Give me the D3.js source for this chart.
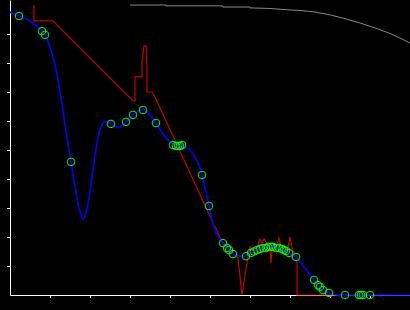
<!DOCTYPE html>
<html>
<head>
<meta charset="utf-8">
<script src="https://cdn.jsdelivr.net/npm/d3@7"></script>
<style>
  body { margin: 0; background: #000; }
</style>
</head>
<body>
<script>
const width = 410;
const height = 310;

// tick positions on both axes (no labels)
const xTicks = [1, 2, 3, 4, 5, 6, 7, 8, 9];
const yTicks = [1, 2, 3, 4, 5, 6, 7, 8, 9];

// smooth fitted curve (blue)
const fitX = [0, 0.225, 0.5, 0.7, 0.8, 0.875, 1.0, 1.125, 1.25, 1.375, 1.525, 1.65, 1.75, 1.825, 1.9, 1.975,
  2.075, 2.175, 2.25, 2.325, 2.4, 2.525, 2.65, 2.75, 2.9, 3.075, 3.2, 3.325, 3.5, 3.65, 3.825, 4.0, 4.15,
  4.35, 4.5, 4.625, 4.75, 4.8, 4.9, 4.975, 5.05, 5.175, 5.325, 5.475, 5.6, 5.75, 5.875, 6.025, 6.175, 6.375,
  6.575, 6.75, 6.9, 7.025, 7.15, 7.375, 7.6, 7.8, 7.975, 8.175, 8.5, 10];
const fitY = [9.76, 9.62, 9.45, 9.24, 9.10, 8.97, 8.55, 7.93, 7.0, 5.86, 4.59, 3.52, 2.86, 2.62, 2.83, 3.34,
  4.31, 5.24, 5.69, 5.93, 6.0, 5.90, 5.79, 5.79, 5.97, 6.21, 6.34, 6.38, 6.21, 5.93, 5.55, 5.28, 5.14,
  5.10, 5.0, 4.76, 4.38, 4.14, 3.55, 3.07, 2.59, 2.10, 1.79, 1.55, 1.41, 1.34, 1.34, 1.45, 1.55, 1.62,
  1.66, 1.62, 1.52, 1.41, 1.31, 0.93, 0.52, 0.17, 0.07, 0, 0, 0];

// sample points (green rings)
const sampleX = [0.225, 0.8, 0.875, 1.525, 2.525, 2.9, 3.075, 3.325, 3.65, 4.075, 4.15, 4.2, 4.25, 4.3,
  4.8, 4.975, 5.325, 5.425, 5.475, 5.575, 5.9, 6.025, 6.1, 6.175, 6.25, 6.325, 6.4, 6.45, 6.525, 6.575,
  6.65, 6.725, 6.8, 6.85, 6.9, 6.975, 7.15, 7.6, 7.7, 7.75, 7.825, 7.975, 8.375, 8.725, 8.775, 8.825, 9.0];
const sampleY = [9.62, 9.10, 8.97, 4.59, 5.90, 5.97, 6.21, 6.38, 5.93, 5.17, 5.14, 5.14, 5.14, 5.17,
  4.14, 3.07, 1.79, 1.62, 1.55, 1.41, 1.34, 1.45, 1.50, 1.55, 1.59, 1.62, 1.62, 1.66, 1.66, 1.66,
  1.62, 1.62, 1.59, 1.55, 1.52, 1.45, 1.31, 0.52, 0.34, 0.28, 0.17, 0.07, 0, 0, 0, 0, 0];

// raw measured trace (red)
const rawX = [0.6, 0.6, 1.075, 3.075, 3.125, 3.125, 3.3, 3.3, 3.35, 3.4, 3.425, 3.425, 3.55, 3.625,
  5.1, 5.3, 5.4, 5.55, 5.7, 5.8, 5.95, 6.0, 6.075, 6.15, 6.2, 6.25, 6.3, 6.35, 6.4, 6.45, 6.5, 6.525,
  6.55, 6.65, 6.725, 6.775, 6.875, 6.95, 7.0, 7.05, 7.125, 7.175, 7.175, 9.05];
const rawY = [10.0, 9.45, 9.45, 6.69, 6.69, 7.52, 7.52, 8.03, 8.59, 8.59, 7.76, 7.0, 7.0, 6.83,
  2.41, 1.86, 1.66, 1.48, 1.28, 0, 1.34, 1.66, 1.55, 1.62, 1.69, 1.93, 1.79, 1.93, 1.83, 1.72, 1.62, 1.10,
  1.59, 1.66, 1.97, 1.62, 1.55, 1.62, 2.0, 1.62, 1.38, 1.31, 0, 0];

// reference envelope (gray)
const refX = [3.0, 3.9, 3.9, 5.325, 5.325, 6.0, 6.0, 6.5, 6.875, 7.25, 7.625, 8.0, 8.375, 8.75, 9.125, 9.5, 9.75, 10];
const refY = [10.0, 10.0, 9.97, 9.97, 9.93, 9.93, 9.90, 9.88, 9.84, 9.81, 9.76, 9.66, 9.53, 9.38, 9.21, 9.02, 8.86, 8.69];

const x = d3.scaleLinear().domain([0, 10]).range([10, 410]);
const y = d3.scaleLinear().domain([0, 295 / 29]).range([295, 0]);

const svg = d3.select("body")
  .append("svg")
  .attr("width", width)
  .attr("height", height);

svg.append("rect")
  .attr("width", width)
  .attr("height", height)
  .attr("fill", "#000");

const zip = (xs, ys) => xs.map((v, i) => [v, ys[i]]);

const straight = d3.line().x(d => x(d[0])).y(d => y(d[1]));
const smooth = d3.line().x(d => x(d[0])).y(d => y(d[1])).curve(d3.curveCatmullRom);

// axes
svg.append("g")
  .attr("transform", "translate(0,295)")
  .call(d3.axisBottom(x).tickValues(xTicks).tickSize(3).tickSizeOuter(0).tickFormat(""));
svg.append("g")
  .attr("transform", "translate(10,0)")
  .call(d3.axisLeft(y).tickValues(yTicks).tickSize(3).tickSizeOuter(0).tickFormat(""));
svg.selectAll(".domain, .tick line").attr("stroke", "#fff").attr("stroke-width", 1);

svg.append("path")
  .datum(zip(refX, refY))
  .attr("d", straight)
  .attr("fill", "none")
  .attr("stroke", "#888")
  .attr("stroke-width", 1);

svg.append("path")
  .datum(zip(rawX, rawY))
  .attr("d", straight)
  .attr("fill", "none")
  .attr("stroke", "#c80000")
  .attr("stroke-width", 1.2)
  .attr("stroke-linejoin", "miter");

svg.append("path")
  .datum(zip(fitX, fitY))
  .attr("d", smooth)
  .attr("fill", "none")
  .attr("stroke", "#0000ff")
  .attr("stroke-width", 1.6);

const samples = zip(sampleX, sampleY);

svg.selectAll("circle.ring")
  .data(samples)
  .join("circle")
  .attr("class", "ring")
  .attr("cx", d => x(d[0]))
  .attr("cy", d => y(d[1]))
  .attr("r", 3.8)
  .attr("fill", "none")
  .attr("stroke", "#00ff00")
  .attr("stroke-width", 1);

svg.selectAll("circle.dot")
  .data(samples)
  .join("circle")
  .attr("class", "dot")
  .attr("cx", d => x(d[0]))
  .attr("cy", d => y(d[1]))
  .attr("r", 0.7)
  .attr("fill", "#0000ff");
</script>
</body>
</html>
